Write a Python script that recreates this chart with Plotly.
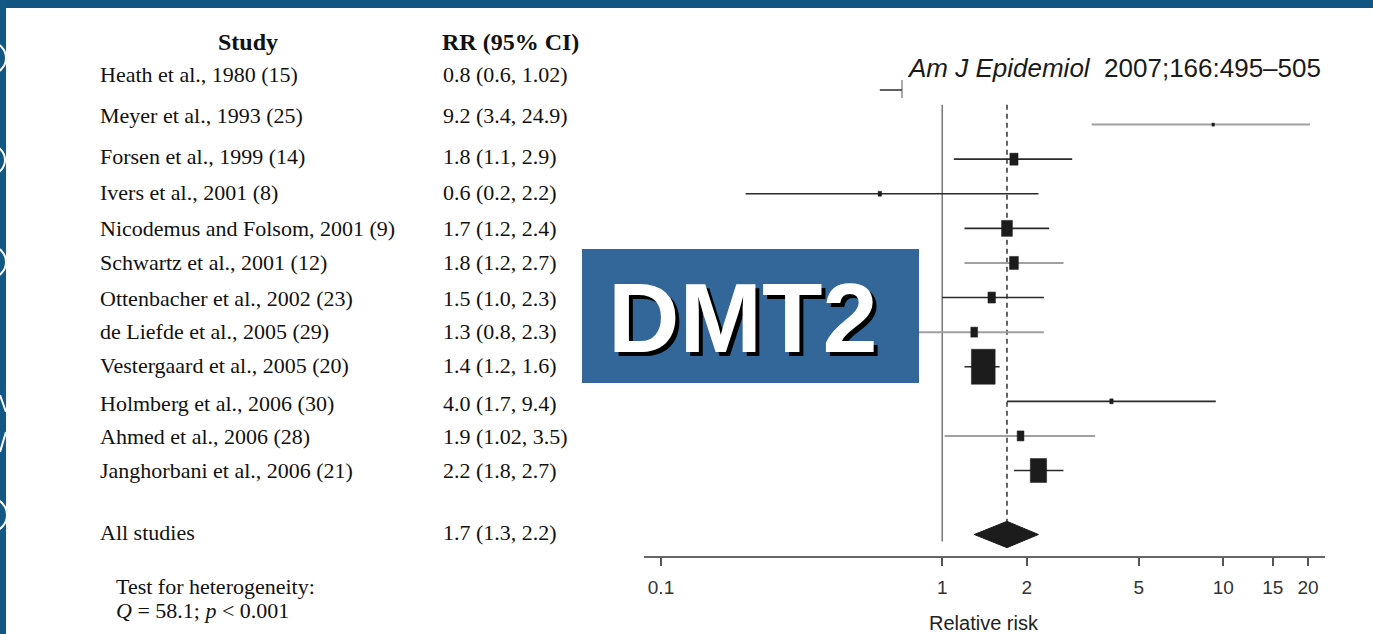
import math
import plotly.graph_objects as go

# ---------------- data ----------------
studies = [
    "Heath et al., 1980 (15)",
    "Meyer et al., 1993 (25)",
    "Forsen et al., 1999 (14)",
    "Ivers et al., 2001 (8)",
    "Nicodemus and Folsom, 2001 (9)",
    "Schwartz et al., 2001 (12)",
    "Ottenbacher et al., 2002 (23)",
    "de Liefde et al., 2005 (29)",
    "Vestergaard et al., 2005 (20)",
    "Holmberg et al., 2006 (30)",
    "Ahmed et al., 2006 (28)",
    "Janghorbani et al., 2006 (21)",
]
rr = [0.8, 9.2, 1.8, 0.6, 1.7, 1.8, 1.5, 1.3, 1.4, 4.0, 1.9, 2.2]
ci_low = [0.6, 3.4, 1.1, 0.2, 1.2, 1.2, 1.0, 0.8, 1.2, 1.7, 1.02, 1.8]
ci_high = [1.02, 24.9, 2.9, 2.2, 2.4, 2.7, 2.3, 2.3, 1.6, 9.4, 3.5, 2.7]
rr_text = [
    "0.8 (0.6, 1.02)", "9.2 (3.4, 24.9)", "1.8 (1.1, 2.9)", "0.6 (0.2, 2.2)",
    "1.7 (1.2, 2.4)", "1.8 (1.2, 2.7)", "1.5 (1.0, 2.3)", "1.3 (0.8, 2.3)",
    "1.4 (1.2, 1.6)", "4.0 (1.7, 9.4)", "1.9 (1.02, 3.5)", "2.2 (1.8, 2.7)",
]
rel_weight = [5.2, 0.8, 11.8, 2.0, 20.9, 13.8, 9.9, 8.2, 100.0, 2.0, 8.2, 47.0]

pooled_label = "All studies"
pooled_rr = 1.7
pooled_low = 1.3
pooled_high = 2.2
pooled_text = "1.7 (1.3, 2.2)"

tick_vals = [0.1, 1, 2, 5, 10, 15, 20]
tick_text = ["0.1", "1", "2", "5", "10", "15", "20"]

header_study = "Study"
header_rr = "RR (95% CI)"
het_lines = ["Test for heterogeneity:", "<i>Q</i> = 58.1; <i>p</i> &lt; 0.001"]
citation = "<i>Am J Epidemiol</i>&nbsp;&nbsp;2007;166:495–505"
x_title = "Relative risk"
overlay_label = "DMT2"

# ---------------- styles / layout ----------------
W, H = 1373, 634
PL, PR, PT, PB = 644, 1310, 40, 557  # plot area in pixels
ci_gray = [False, True, False, False, False, True, False, True, False, False, True, False]
text_yshift = [15, 9, 3, 1, 0, 0, -1, 1, 1, -2, -1, 0]
pooled_row = len(studies) + 0.85
serif = "Liberation Serif, Times New Roman, serif"
sans = "Liberation Sans, Arial, sans-serif"

lo = math.log10(tick_vals[0]) - 17 / 281
hi = math.log10(tick_vals[-1]) + 2 / 281
Y_TOP, Y_BOT = -1.445, 13.5
x_px_per_dec = (PR - PL) / (hi - lo)
y_px_per_row = (PB - PT) / (Y_BOT - Y_TOP)


def px(xp):
    return (xp - PL) / (PR - PL)


def py(yp):
    return (PB - yp) / (PB - PT)


fig = go.Figure()
shapes = []
ann = []

# CI lines
for i in range(len(studies)):
    fig.add_trace(go.Scatter(
        x=[ci_low[i], ci_high[i]], y=[i, i], mode="lines",
        line=dict(color="#a0a0a0" if ci_gray[i] else "#2b2b2b",
                  width=2 if ci_gray[i] else 1.6),
        hoverinfo="skip", showlegend=False))

# weight boxes (filled rectangles sized in pixels from relative weight)
for i in range(len(studies)):
    h = max(3.0, 35 * math.sqrt(rel_weight[i] / 100))
    w = max(2.5, 0.68 * h)
    f = 10 ** ((w / 2) / x_px_per_dec)
    dh = (h / 2) / y_px_per_row
    xl, xr = rr[i] / f, rr[i] * f
    fig.add_trace(go.Scatter(
        x=[xl, xr, xr, xl, xl], y=[i - dh, i - dh, i + dh, i + dh, i - dh],
        mode="lines", fill="toself", fillcolor="#1c1c1c",
        line=dict(color="#1c1c1c", width=0.5), hoverinfo="skip", showlegend=False))

# pooled diamond
fig.add_trace(go.Scatter(
    x=[pooled_low, pooled_rr, pooled_high, pooled_rr, pooled_low],
    y=[pooled_row, pooled_row - 0.38, pooled_row, pooled_row + 0.38, pooled_row],
    mode="lines", fill="toself", fillcolor="#1c1c1c",
    line=dict(color="#1c1c1c", width=1), hoverinfo="skip", showlegend=False))

# reference lines
shapes.append(dict(type="line", xref="x", yref="y", x0=1, x1=1, y0=0.43, y1=13.05,
                   line=dict(color="#555555", width=1.2), layer="below"))
shapes.append(dict(type="line", xref="x", yref="y", x0=pooled_rr, x1=pooled_rr,
                   y0=0.43, y1=13.15,
                   line=dict(color="#222222", width=1.4, dash="5px,4px"), layer="below"))

# axis baseline (extends slightly beyond the clip area)
shapes.append(dict(type="line", xref="paper", yref="paper", x0=0, x1=px(1325), y0=0, y1=0,
                   line=dict(color="#666666", width=2), layer="above"))

# citation cover box
shapes.append(dict(type="rect", xref="paper", yref="paper", x0=px(902), x1=px(1340),
                   y0=py(100), y1=py(40), fillcolor="white", line=dict(width=0), layer="above"))
shapes.append(dict(type="line", xref="paper", yref="paper", x0=px(902), x1=px(902),
                   y0=py(98), y1=py(80), line=dict(color="#555555", width=1), layer="above"))

# DMT2 overlay box
shapes.append(dict(type="rect", xref="paper", yref="paper", x0=px(582), x1=px(919),
                   y0=py(383), y1=py(249), fillcolor="#336699", line=dict(width=0), layer="above"))

# frame bands
shapes.append(dict(type="rect", xref="paper", yref="paper", x0=px(0), x1=px(W), y0=py(8), y1=py(-2),
                   fillcolor="#125580", line=dict(width=0), layer="above"))
shapes.append(dict(type="rect", xref="paper", yref="paper", x0=px(-2), x1=px(6), y0=py(H + 2), y1=py(0),
                   fillcolor="#135784", line=dict(width=0), layer="above"))
for cy, r in [(58, 16), (160, 15), (262, 16), (515, 17)]:
    shapes.append(dict(type="circle", xref="paper", yref="paper",
                       x0=px(-10 - r), x1=px(-10 + r), y0=py(cy + r), y1=py(cy - r),
                       line=dict(color="white", width=2), layer="above"))
shapes.append(dict(type="line", xref="paper", yref="paper", x0=px(0), x1=px(6),
                   y0=py(395), y1=py(412), line=dict(color="white", width=2), layer="above"))
shapes.append(dict(type="line", xref="paper", yref="paper", x0=px(6), x1=px(0),
                   y0=py(432), y1=py(452), line=dict(color="white", width=2), layer="above"))

# table text
tfont = dict(family=serif, size=22, color="#111111")
for i, name in enumerate(studies):
    ann.append(dict(x=px(98), y=i, xref="paper", yref="y", text=name, showarrow=False,
                    xanchor="left", yanchor="middle", yshift=text_yshift[i], font=tfont))
    ann.append(dict(x=px(441), y=i, xref="paper", yref="y", text=rr_text[i], showarrow=False,
                    xanchor="left", yanchor="middle", yshift=text_yshift[i], font=tfont))
ann.append(dict(x=px(98), y=pooled_row, xref="paper", yref="y", text=pooled_label, showarrow=False,
                xanchor="left", yanchor="middle", yshift=2, font=tfont))
ann.append(dict(x=px(441), y=pooled_row, xref="paper", yref="y", text=pooled_text, showarrow=False,
                xanchor="left", yanchor="middle", yshift=2, font=tfont))
hfont = dict(family=serif, size=24, color="#111111")
ann.append(dict(x=px(248), y=py(42), xref="paper", yref="paper", text="<b>" + header_study + "</b>",
                showarrow=False, xanchor="center", yanchor="middle", font=hfont))
ann.append(dict(x=px(440), y=py(42), xref="paper", yref="paper", text="<b>" + header_rr + "</b>",
                showarrow=False, xanchor="left", yanchor="middle", font=hfont))
for k, line in enumerate(het_lines):
    ann.append(dict(x=px(114), y=py(586 + 24 * k), xref="paper", yref="paper", text=line,
                    showarrow=False, xanchor="left", yanchor="middle",
                    font=dict(family=serif, size=22, color="#111111")))

# citation
ann.append(dict(x=px(905), y=py(68), xref="paper", yref="paper", text=citation, showarrow=False,
                xanchor="left", yanchor="middle", font=dict(family=sans, size=26, color="#1a1a1a")))

# x title
ann.append(dict(x=px(984), y=py(623), xref="paper", yref="paper", text=x_title, showarrow=False,
                xanchor="center", yanchor="middle", font=dict(family=sans, size=20, color="#222222")))

# DMT2 label with shadow
for dx, dy, col in [(4, -4, "black"), (0, 0, "white")]:
    ann.append(dict(x=px(743), y=py(317), xref="paper", yref="paper", text="<b>" + overlay_label + "</b>",
                    showarrow=False, xanchor="center", yanchor="middle", xshift=dx, yshift=dy,
                    font=dict(family=sans, size=99, color=col)))

fig.update_layout(
    width=W, height=H,
    margin=dict(l=PL, r=W - PR, t=PT, b=H - PB, pad=0),
    paper_bgcolor="white", plot_bgcolor="white",
    showlegend=False,
    xaxis=dict(type="log", range=[lo, hi], tickvals=tick_vals, ticktext=tick_text,
               ticks="outside", ticklen=8, tickwidth=1.5, tickcolor="#555555",
               showline=False, showgrid=False, zeroline=False,
               ticklabelstandoff=5,
               tickfont=dict(family=sans, size=19, color="#333333")),
    yaxis=dict(range=[Y_BOT, Y_TOP], visible=False, showgrid=False, zeroline=False),
    shapes=shapes, annotations=ann,
)

fig.write_html("out.html", config={"displayModeBar": False},
               post_script="document.body.style.margin='0';document.body.style.overflow='hidden';")
